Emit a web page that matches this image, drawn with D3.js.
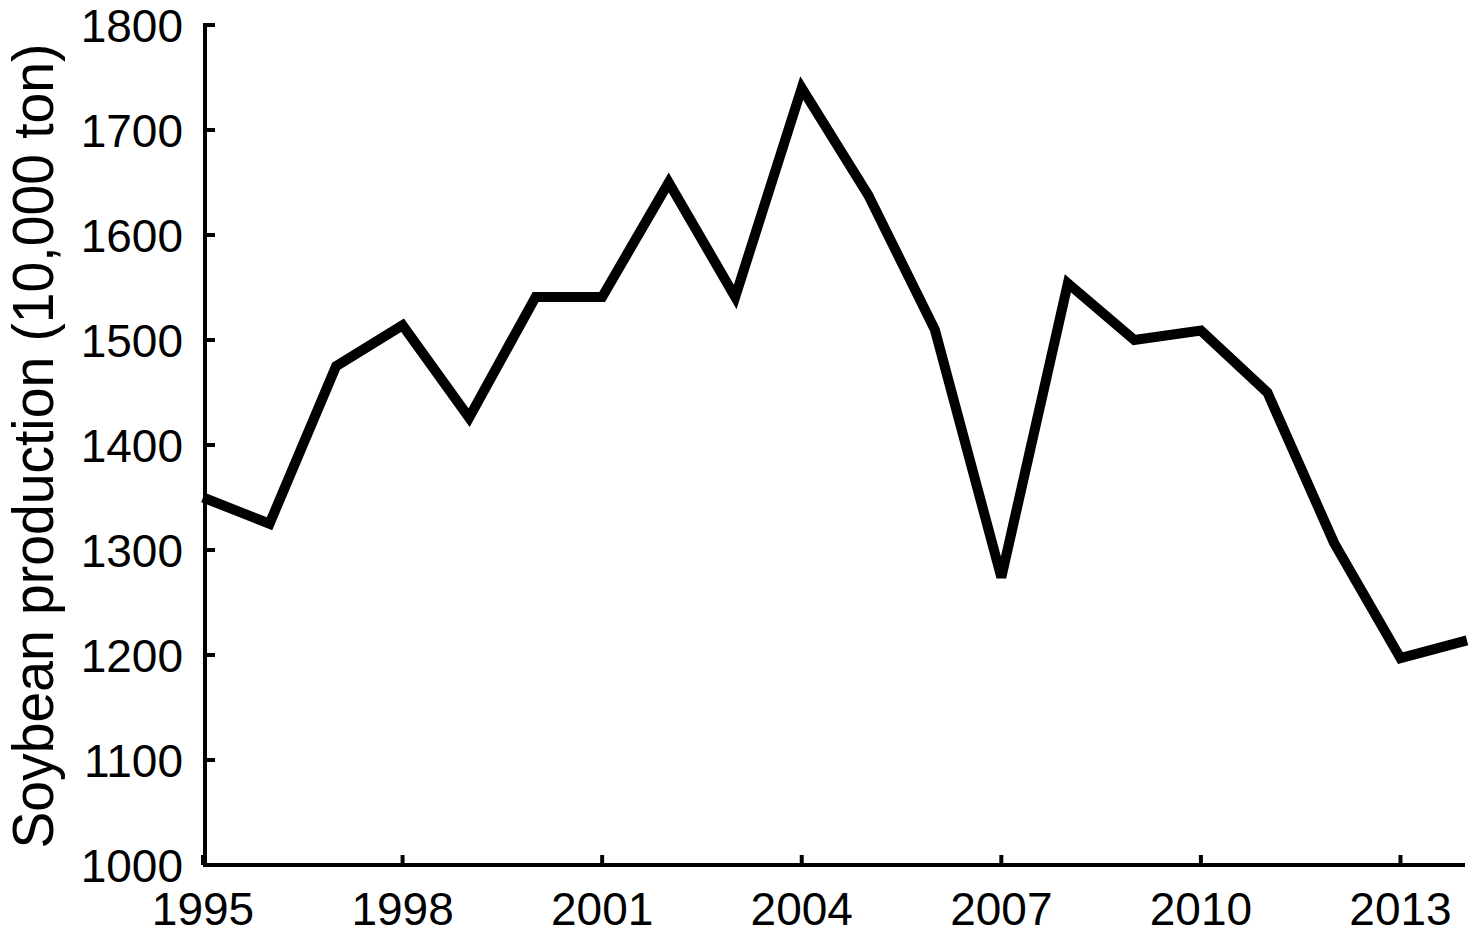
<!DOCTYPE html>
<html>
<head>
<meta charset="utf-8">
<script src="https://cdn.jsdelivr.net/npm/d3@7"></script>
<style>
  html, body { margin: 0; padding: 0; background: #fff; }
  svg { display: block; }
</style>
</head>
<body>
<svg id="chart" width="1472" height="937"></svg>
<script>
const years = [1995,1996,1997,1998,1999,2000,2001,2002,2003,2004,2005,2006,2007,2008,2009,2010,2011,2012,2013,2014];
const production = [1350,1325,1475,1514,1426,1541,1541,1650,1541,1740,1638,1510,1274,1554,1500,1509,1450,1307,1197,1214];
const xTicks = [1995,1998,2001,2004,2007,2010,2013];
const yTicks = [1000,1100,1200,1300,1400,1500,1600,1700,1800];
const yTitle = "Soybean production (10,000 ton)";

const svg = d3.select("#chart");
const font = "'Liberation Sans', Arial, Helvetica, sans-serif";

const x = d3.scaleLinear().domain([1995, 2014]).range([203, 1467]);
const y = d3.scaleLinear().domain([1000, 1800]).range([865, 25]);
const axisX0 = 205;

// line
const line = d3.line().x((d, i) => x(years[i])).y(d => y(d));
svg.append("path")
  .datum(production)
  .attr("d", line)
  .attr("fill", "none")
  .attr("stroke", "#000")
  .attr("stroke-width", 10)
  .attr("stroke-linejoin", "miter");

// y axis
const yAxis = svg.append("g").attr("transform", `translate(${axisX0},0)`);
yAxis.append("line").attr("x1", 0).attr("x2", 0).attr("y1", y(1800) - 2).attr("y2", y(1000) + 2)
  .attr("stroke", "#000").attr("stroke-width", 4);
yAxis.selectAll("line.tick").data(yTicks).enter().append("line")
  .attr("class", "tick")
  .attr("x1", 0).attr("x2", 10)
  .attr("y1", d => y(d)).attr("y2", d => y(d))
  .attr("stroke", "#000").attr("stroke-width", 4);
svg.selectAll("text.ylab").data(yTicks).enter().append("text")
  .attr("class", "ylab")
  .attr("x", 183)
  .attr("y", d => y(d))
  .attr("dy", "0.36em")
  .attr("text-anchor", "end")
  .attr("font-family", font)
  .attr("font-size", 46)
  .attr("fill", "#000")
  .text(d => d);

// x axis
const xAxis = svg.append("g").attr("transform", `translate(0,${y(1000)})`);
xAxis.append("line").attr("x1", axisX0 - 2).attr("x2", 1465).attr("y1", 0).attr("y2", 0)
  .attr("stroke", "#000").attr("stroke-width", 4);
xAxis.selectAll("line.tick").data(xTicks).enter().append("line")
  .attr("class", "tick")
  .attr("x1", d => x(d)).attr("x2", d => x(d))
  .attr("y1", 0).attr("y2", -10)
  .attr("stroke", "#000").attr("stroke-width", 4);
svg.selectAll("text.xlab").data(xTicks).enter().append("text")
  .attr("class", "xlab")
  .attr("x", d => x(d))
  .attr("y", 925)
  .attr("text-anchor", "middle")
  .attr("font-family", font)
  .attr("font-size", 46)
  .attr("fill", "#000")
  .text(d => d);

// y title
svg.append("text")
  .attr("transform", `translate(53,446) rotate(-90)`)
  .attr("text-anchor", "middle")
  .attr("font-family", font)
  .attr("font-size", 58)
  .attr("textLength", 805)
  .attr("lengthAdjust", "spacingAndGlyphs")
  .attr("fill", "#000")
  .text(yTitle);
</script>
</body>
</html>
